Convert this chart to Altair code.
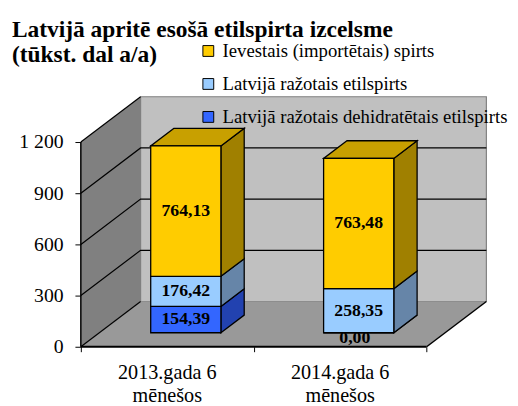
import altair as alt
import pandas as pd

# ---------------- data ----------------
categories = ["2013.gada 6\nmēnešos", "2014.gada 6\nmēnešos"]
# stacking order: bottom -> top
series = [
    "Latvijā ražotais dehidratētais etilspirts",
    "Latvijā ražotais etilspirts",
    "Ievestais (importētais) spirts",
]
values_2013 = [154.39, 176.42, 764.13]
values_2014 = [0.00, 258.35, 763.48]
y_ticks = [0, 300, 600, 900, 1200]
x_ticks = [0, 1, 2]
legend_order = [series[2], series[1], series[0]]

front_colors = ["#3366FF", "#99CCFF", "#FFCC00"]
side_colors = ["#2242B0", "#6685A8", "#A08000"]
top_colors = ["#2A55D8", "#7FA8D6", "#C8A000"]

# ---------------- geometry (pseudo-3D depth) ----------------
YMAX_AX = 1200
DY = 265.4      # depth offset in value units
DX = 0.3456     # depth offset in category units
XM = 2 + DX
YM = YMAX_AX + DY
F0, F1 = 0.31, 0.70   # bar front / back depth fraction
HW = 0.203            # bar half width

xs = alt.Scale(domain=[0, XM], nice=False, zero=False)
ys = alt.Scale(domain=[0, YM], nice=False, zero=False)
FONT = "Liberation Serif"

YAXIS = alt.Axis(values=y_ticks, domain=False, grid=False, title=None,
                 tickSize=6, tickColor="black", tickWidth=1,
                 labelFont=FONT, labelFontSize=20, labelColor="black",
                 labelPadding=12,
                 labelExpr="replace(format(datum.value, ','), ',', ' ')")
XAXIS = alt.Axis(values=x_ticks, domain=False, grid=False, labels=False,
                 title=None, tickSize=5, tickColor="black", tickWidth=1)


def X(f="x"):
    return alt.X(f"{f}:Q", scale=xs, axis=XAXIS)


def Y(f="y"):
    return alt.Y(f"{f}:Q", scale=ys, axis=YAXIS)


# walls
back = pd.DataFrame([{"x": DX, "x2": XM, "y": DY, "y2": YM}])
side = pd.DataFrame([{"x": 0, "y": 0, "y2": YMAX_AX},
                     {"x": DX, "y": DY, "y2": YMAX_AX + DY}])
floor = pd.DataFrame([{"y": 0, "x": 0, "x2": 2},
                      {"y": DY, "x": DX, "x2": XM}])

back_l = alt.Chart(back).mark_rect(fill="#C0C0C0", stroke="#808080", strokeWidth=1.2).encode(
    x=X(), x2="x2:Q", y=Y(), y2="y2:Q")
side_l = alt.Chart(side).mark_area(orient="vertical", fill="#808080").encode(
    x=X(), y=Y(), y2="y2:Q")
floor_l = alt.Chart(floor).mark_area(orient="horizontal", fill="#999999").encode(
    y=Y(), x=X(), x2="x2:Q")

# gridlines (side wall diagonal + back wall horizontal)
grid_rows = []
for v in y_ticks:
    grid_rows.append({"v": v, "o": 0, "x": 0, "y": v})
    grid_rows.append({"v": v, "o": 1, "x": DX, "y": v + DY})
    if 0 < v < YMAX_AX:
        grid_rows.append({"v": v, "o": 2, "x": XM, "y": v + DY})
grid = pd.DataFrame(grid_rows)
grid_l = alt.Chart(grid).mark_line(color="black", strokeWidth=1.2).encode(
    x=X(), y=Y(), detail="v:N", order="o:Q")

# axis lines
yline = pd.DataFrame([{"x": 0, "y": 0, "y2": YMAX_AX}])
yline_l = alt.Chart(yline).mark_rule(color="black", strokeWidth=1.5).encode(
    x=X(), y=Y(), y2="y2:Q")
xline = pd.DataFrame([{"x": 0, "x2": 2, "y": 0}])
xline_l = alt.Chart(xline).mark_rule(color="black", strokeWidth=2).encode(
    x=X(), x2="x2:Q", y=Y())
fedge = pd.DataFrame([{"x": 2, "y": 0}, {"x": XM, "y": DY}])
fedge_l = alt.Chart(fedge).mark_line(color="black", strokeWidth=1.5).encode(x=X(), y=Y())

# bars
fronts, sides, tops, labels = [], [], [], []
for ci, vals in enumerate([values_2013, values_2014]):
    c = ci + 0.5
    start = 0.0
    for si, v in enumerate(vals):
        end = start + v
        fronts.append({"series": series[si],
                       "x": c - HW + F0 * DX, "x2": c + HW + F0 * DX,
                       "y": start + F0 * DY, "y2": end + F0 * DY})
        sid = f"{ci}-{si}"
        sides.append({"id": sid, "shade": side_colors[si], "x": c + HW + F0 * DX,
                      "y": start + F0 * DY, "y2": end + F0 * DY})
        sides.append({"id": sid, "shade": side_colors[si], "x": c + HW + F1 * DX,
                      "y": start + F1 * DY, "y2": end + F1 * DY})
        labels.append({"x": c + F0 * DX, "y": (start + end) / 2 + F0 * DY,
                       "v": v, "t": f"{v:.2f}".replace(".", ",")})
        start = end
    tid = f"top{ci}"
    tops.append({"id": tid, "shade": top_colors[2], "y": start + F0 * DY,
                 "x": c - HW + F0 * DX, "x2": c + HW + F0 * DX})
    tops.append({"id": tid, "shade": top_colors[2], "y": start + F1 * DY,
                 "x": c - HW + F1 * DX, "x2": c + HW + F1 * DX})

front_l = alt.Chart(pd.DataFrame(fronts)).mark_rect(stroke="black", strokeWidth=1.3).encode(
    x=X(), x2="x2:Q", y=Y(), y2="y2:Q",
    color=alt.Color("series:N",
                    scale=alt.Scale(domain=legend_order,
                                    range=[front_colors[2], front_colors[1], front_colors[0]]),
                    legend=alt.Legend(orient="none", legendX=120, legendY=-56, title=None,
                                      symbolType="square", symbolSize=121,
                                      symbolStrokeColor="black", symbolStrokeWidth=1,
                                      labelFont=FONT, labelFontSize=19, labelColor="black",
                                      rowPadding=13.5, labelOffset=5, labelLimit=500,
                                      padding=0)))
side_l2 = alt.Chart(pd.DataFrame(sides)).mark_area(
    orient="vertical", stroke="black", strokeWidth=1.3).encode(
    x=X(), y=Y(), y2="y2:Q", fill=alt.Fill("shade:N", scale=None), detail="id:N")
top_l = alt.Chart(pd.DataFrame(tops)).mark_area(
    orient="horizontal", stroke="black", strokeWidth=1.3).encode(
    y=Y(), x=X(), x2="x2:Q", fill=alt.Fill("shade:N", scale=None), detail="id:N")
lab_df = pd.DataFrame(labels)
label_l = alt.Chart(lab_df).transform_filter("datum.v > 0").mark_text(
    font=FONT, fontSize=18, fontWeight="bold", color="black").encode(
    x=X(), y=Y(), text="t:N")
zero_l = alt.Chart(lab_df).transform_filter("datum.v == 0").mark_text(
    font=FONT, fontSize=18, fontWeight="bold", color="black", dy=5, dx=-4).encode(
    x=X(), y=Y(), text="t:N")

cats = pd.DataFrame({"x": [0.5, 1.5], "y": [0, 0], "t": categories})
cat_l = alt.Chart(cats).mark_text(font=FONT, fontSize=20.5, color="black", baseline="top",
                                  dy=17, lineBreak="\n", lineHeight=23).encode(
    x=X(), y=Y(), text="t:N")

chart = alt.layer(
    back_l, side_l, floor_l, grid_l, yline_l, xline_l, fedge_l,
    side_l2, top_l, front_l, label_l, zero_l, cat_l
).properties(
    width=412, height=254,
    autosize=alt.AutoSizeParams(type="none"),
    padding={"left": 74, "top": 87, "right": 24, "bottom": 57},
    title=alt.TitleParams(
        text=["Latvijā apritē esošā etilspirta izcelsme", "(tūkst. dal a/a)"],
        anchor="start", frame="group", font=FONT, fontSize=23.8, fontWeight="bold",
        color="black", lineHeight=26, dx=-70, dy=26, offset=0),
    background="white",
).configure_view(stroke=None)

chart.save("out.html", embed_options={"renderer": "svg", "actions": False})
